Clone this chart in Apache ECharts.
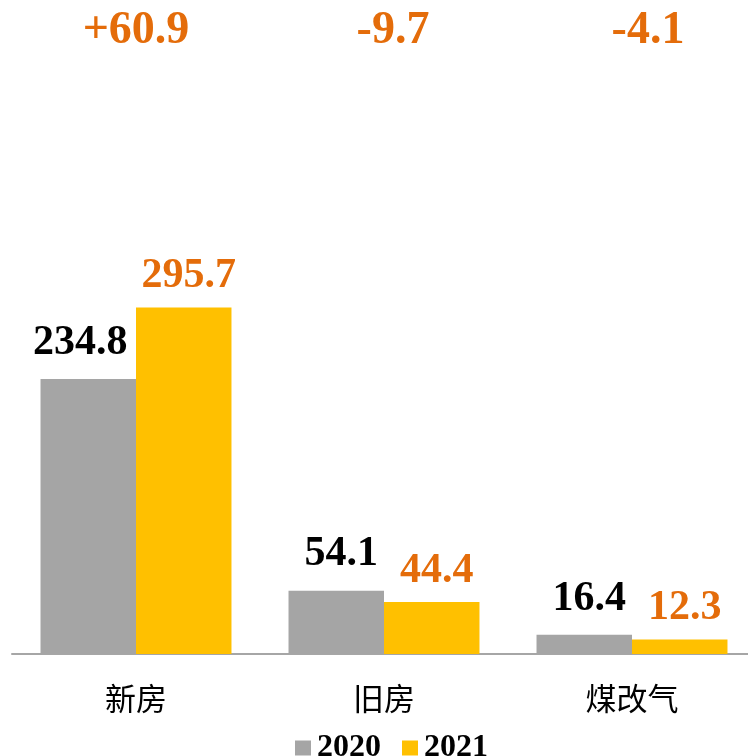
<!DOCTYPE html>
<html>
<head>
<meta charset="utf-8">
<script src="https://cdn.jsdelivr.net/npm/echarts@6/dist/echarts.min.js"></script>
<style>
  html, body { margin: 0; padding: 0; background: #fff; overflow: hidden; }
  #chart { width: 756px; height: 756px; }
</style>
</head>
<body>
<div id="chart"></div>
<script>
// data
var categories = ['新房', '旧房', '煤改气'];
var v2020 = [234.8, 54.1, 16.4];
var v2021 = [295.7, 44.4, 12.3];
var diffLabels = ['+60.9', '-9.7', '-4.1'];

var serif = '"Liberation Serif", "Times New Roman", serif';
var orange = '#E46C0A';

// first 2020 label sits a little left in the original
var data2020 = v2020.map(function (v, i) {
  return i === 0 ? { value: v, label: { offset: [-8, 0] } } : v;
});

var diffStyle = { fontSize: 46, fontWeight: 'bold', color: orange, fontFamily: serif };

var chart = echarts.init(document.getElementById('chart'));
var option = {
  animation: false,
  grid: { left: 12, right: 0, top: 80, bottom: 102, containLabel: false },
  legend: {
    top: 727,
    left: 290,
    itemWidth: 16,
    itemHeight: 15,
    itemGap: 21,
    icon: 'rect',
    textStyle: { fontFamily: serif, fontWeight: 'bold', fontSize: 32, color: '#000', padding: [0, 0, 0, 1] },
    data: ['2020', '2021']
  },
  xAxis: [
    {
      type: 'category',
      data: categories,
      axisTick: { show: false },
      axisLine: { lineStyle: { color: '#A6A6A6', width: 2 } },
      axisLabel: { interval: 0, margin: 29, fontSize: 31, color: '#000', fontFamily: '"Noto Sans CJK SC", sans-serif' }
    },
    {
      type: 'category',
      position: 'top',
      data: diffLabels,
      axisTick: { show: false },
      axisLine: { show: false },
      axisLabel: {
        interval: 0,
        hideOverlap: false,
        margin: 26,
        fontSize: 46, fontWeight: 'bold', color: orange, fontFamily: serif,
        formatter: function (v, i) { return '{d' + i + '|' + v + '}'; },
        rich: {
          d0: diffStyle,
          d1: Object.assign({ padding: [0, 0, 0, 18] }, diffStyle),
          d2: Object.assign({ padding: [0, 0, 0, 32] }, diffStyle)
        }
      }
    }
  ],
  yAxis: { type: 'value', min: 0, max: 490, show: false, splitLine: { show: false } },
  series: [
    {
      name: '2020',
      type: 'bar',
      data: data2020,
      barGap: '0%',
      barCategoryGap: '23%',
      itemStyle: { color: '#A5A5A5' },
      label: { show: true, position: 'top', distance: 15, offset: [5, 0], fontFamily: serif, fontWeight: 'bold', fontSize: 42, color: '#000' }
    },
    {
      name: '2021',
      type: 'bar',
      data: v2021,
      barGap: '0%',
      barCategoryGap: '23%',
      itemStyle: { color: '#FFC000' },
      label: { show: true, position: 'top', distance: 10, offset: [5, 0], fontFamily: serif, fontWeight: 'bold', fontSize: 42, color: orange }
    }
  ]
};
chart.setOption(option);
</script>
</body>
</html>
